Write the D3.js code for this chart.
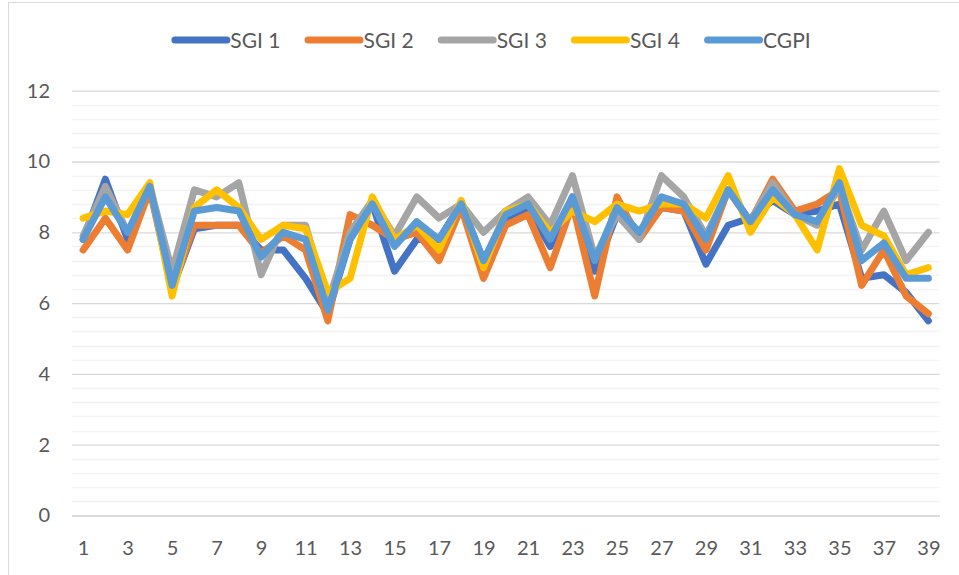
<!DOCTYPE html>
<html>
<head>
<meta charset="utf-8">
<script src="https://cdn.jsdelivr.net/npm/d3@7"></script>
<style>
  body { margin: 0; background: #fff; }
  text { font-family: Lato, "Open Sans", sans-serif; fill: #595959; }
</style>
</head>
<body>
<svg id="chart"></svg>
<script>
const svgWidth = 959;
const svgHeight = 575;

const categories = d3.range(1, 40);
const seriesNames = ['SGI 1', 'SGI 2', 'SGI 3', 'SGI 4', 'CGPI'];
const sgi1 = [7.8, 9.5, 7.8, 9.3, 6.4, 8.1, 8.2, 8.2, 7.5, 7.5, 6.7, 5.7, 7.8, 8.8, 6.9, 7.8, 7.8, 8.8, 7.2, 8.4, 8.7, 7.6, 9.0, 6.9, 8.5, 7.9, 8.7, 8.6, 7.1, 8.2, 8.4, 8.9, 8.5, 8.6, 8.8, 6.7, 6.8, 6.3, 5.5];
const sgi2 = [7.5, 8.4, 7.5, 9.2, 6.4, 8.2, 8.2, 8.2, 7.4, 7.9, 7.5, 5.5, 8.5, 8.2, 7.8, 8.0, 7.2, 8.7, 6.7, 8.2, 8.5, 7.0, 8.8, 6.2, 9.0, 7.8, 8.7, 8.6, 7.5, 9.2, 8.3, 9.5, 8.6, 8.8, 9.2, 6.5, 7.5, 6.2, 5.7];
const sgi3 = [7.9, 9.3, 8.0, 9.3, 6.9, 9.2, 9.0, 9.4, 6.8, 8.2, 8.2, 6.0, 8.0, 8.9, 7.9, 9.0, 8.4, 8.8, 8.0, 8.6, 9.0, 8.2, 9.6, 7.3, 8.5, 7.8, 9.6, 9.0, 7.9, 9.2, 8.3, 9.4, 8.5, 8.2, 9.3, 7.5, 8.6, 7.2, 8.0];
const sgi4 = [8.4, 8.6, 8.5, 9.4, 6.2, 8.7, 9.2, 8.7, 7.8, 8.2, 8.1, 6.3, 6.7, 9.0, 7.8, 8.2, 7.5, 8.9, 7.0, 8.6, 8.8, 8.0, 8.6, 8.3, 8.8, 8.6, 8.8, 8.8, 8.4, 9.6, 8.0, 9.0, 8.5, 7.5, 9.8, 8.2, 7.9, 6.8, 7.0];
const cgpi = [7.8, 9.0, 8.0, 9.3, 6.5, 8.6, 8.7, 8.6, 7.3, 8.0, 7.8, 5.8, 7.8, 8.8, 7.6, 8.3, 7.8, 8.8, 7.2, 8.5, 8.8, 7.8, 9.0, 7.2, 8.7, 8.0, 9.0, 8.8, 7.8, 9.2, 8.3, 9.2, 8.5, 8.3, 9.4, 7.2, 7.7, 6.7, 6.7];
const yTicks = [0, 2, 4, 6, 8, 10, 12];
const xTickLabels = categories.filter(d => d % 2 === 1);

const seriesValues = [sgi1, sgi2, sgi3, sgi4, cgpi];
const colors = ['#4472C4', '#ED7D31', '#A5A5A5', '#FFC000', '#5B9BD5'];

const svg = d3.select('#chart')
    .attr('width', svgWidth)
    .attr('height', svgHeight);

svg.append('rect')
    .attr('x', 8.5)
    .attr('y', 2.5)
    .attr('width', 1000)
    .attr('height', 1000)
    .attr('fill', '#fff')
    .attr('stroke', '#d9d9d9');

const x = d3.scalePoint()
    .domain(categories)
    .range([72, 939.5])
    .padding(0.5);

const y = d3.scaleLinear()
    .domain([0, 12])
    .range([515.5, 90.7]);

// minor gridlines
svg.append('g')
    .selectAll('line')
    .data(d3.range(0, 12.01, 0.4).filter(v => Math.abs(v / 2 - Math.round(v / 2)) > 0.01))
    .enter()
    .append('line')
    .attr('x1', 72)
    .attr('x2', 939.5)
    .attr('y1', d => Math.round(y(d)) + 0.5)
    .attr('y2', d => Math.round(y(d)) + 0.5)
    .attr('stroke', '#f2f2f2')
    .attr('stroke-width', 1.3);

// major gridlines
const yAxis = svg.append('g')
    .attr('transform', 'translate(72,0)')
    .call(d3.axisLeft(y).tickValues(yTicks).tickSize(-867.5).tickPadding(22));
yAxis.select('.domain').remove();
yAxis.selectAll('line').attr('stroke', '#d9d9d9').attr('stroke-width', 1.3);
yAxis.selectAll('text')
    .style('font-size', '20px')
    .style('font-family', 'Lato, sans-serif')
    .attr('fill', '#595959');

const xAxis = svg.append('g')
    .attr('transform', `translate(0,${y(0)})`)
    .call(d3.axisBottom(x).tickValues(xTickLabels).tickSize(0).tickPadding(25));
xAxis.select('.domain').attr('stroke', '#d9d9d9').attr('stroke-width', 1.3);
xAxis.selectAll('text')
    .style('font-size', '20px')
    .style('font-family', 'Lato, sans-serif')
    .attr('fill', '#595959');

const lineGen = d3.line()
    .x((d, i) => x(categories[i]))
    .y(d => y(d));

svg.append('g')
    .selectAll('path')
    .data(seriesValues)
    .enter()
    .append('path')
    .attr('d', d => lineGen(d))
    .attr('fill', 'none')
    .attr('stroke', (d, i) => colors[i])
    .attr('stroke-width', 7)
    .attr('stroke-linejoin', 'round')
    .attr('stroke-linecap', 'round');

// legend
const legend = svg.append('g');
let cursor = 0;
seriesNames.forEach((name, i) => {
    const item = legend.append('g').attr('transform', `translate(${cursor},0)`);
    item.append('line')
        .attr('x1', 3.5).attr('x2', 55.5)
        .attr('y1', 0).attr('y2', 0)
        .attr('stroke', colors[i])
        .attr('stroke-width', 7)
        .attr('stroke-linecap', 'round');
    const t = item.append('text')
        .text(name)
        .attr('x', 59)
        .attr('y', 7.5)
        .style('font-size', '21px');
    cursor += 59 + t.node().getComputedTextLength() + 24;
});
const legendWidth = cursor - 24;
legend.attr('transform', `translate(${491 - legendWidth / 2},40)`);
</script>
</body>
</html>
